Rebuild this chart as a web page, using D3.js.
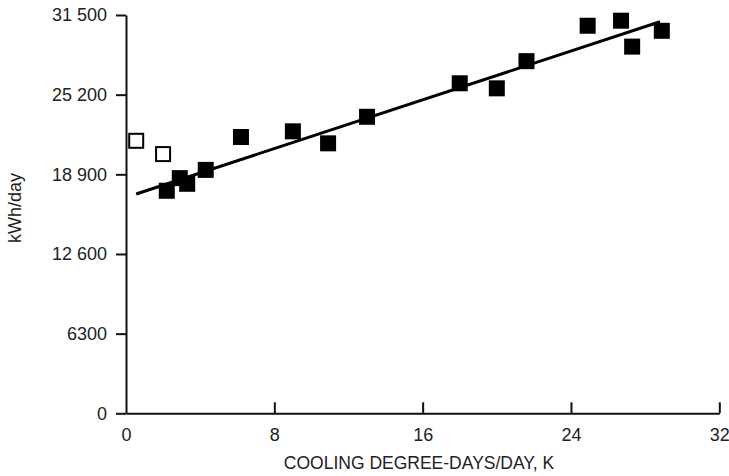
<!DOCTYPE html>
<html>
<head>
<meta charset="utf-8">
<script src="https://cdn.jsdelivr.net/npm/d3@7"></script>
<style>
  body { margin: 0; background: #fff; }
  text { font-family: "Liberation Sans", Arial, sans-serif; fill: #222; }
</style>
</head>
<body>
<div id="chart"></div>
<script>
// measured points (cooling degree-days/day vs kWh/day)
const filledX = [2.2, 2.9, 3.3, 4.3, 6.2, 9.0, 10.9, 13.0, 18.0, 20.0, 21.6, 24.9, 26.7, 27.3, 28.9];
const filledY = [17600, 18600, 18150, 19250, 21850, 22300, 21350, 23450, 26100, 25700, 27850, 30650, 31050, 29000, 30250];
// excluded points (open squares)
const openX = [0.55, 2.0];
const openY = [21550, 20500];
// regression line end points
const fitX = [0.55, 28.8];
const fitY = [17340, 30970];

const xTicks = [0, 8, 16, 24, 32];
const yTicks = [0, 6300, 12600, 18900, 25200, 31500];
const yTickLabels = ["0", "6300", "12 600", "18 900", "25 200", "31 500"];

const width = 729, height = 476;

const x = d3.scaleLinear().domain([0, 32]).range([126, 719.3]);
const y = d3.scaleLinear().domain([0, 31500]).range([413.3, 15]);

const svg = d3.select("#chart")
  .append("svg")
  .attr("width", width)
  .attr("height", height);

// y axis
const gy = svg.append("g")
  .attr("transform", "translate(" + x(0) + ",0)")
  .call(d3.axisLeft(y)
    .tickValues(yTicks)
    .tickFormat((d, i) => yTickLabels[i])
    .tickSize(10)
    .tickSizeOuter(0)
    .tickPadding(9));

// x axis, ticks pointing inward
const gx = svg.append("g")
  .attr("transform", "translate(0," + y(0) + ")")
  .call(d3.axisBottom(x)
    .tickValues(xTicks)
    .tickFormat(d3.format("d"))
    .tickSize(-11)
    .tickSizeOuter(0)
    .tickPadding(15));

gx.selectAll(".tick").filter(d => d === 0).select("line").remove();

[gx, gy].forEach((g) => {
  g.select(".domain").attr("stroke", "#111").attr("stroke-width", 2);
  g.selectAll(".tick line").attr("stroke", "#111").attr("stroke-width", 2);
  g.selectAll(".tick text")
    .style("font-size", "18px")
    .style("font-family", '"Liberation Sans", Arial, sans-serif')
    .attr("fill", "#222");
});

// regression line
const line = d3.line()
  .x((d, i) => x(fitX[i]))
  .y((d, i) => y(fitY[i]));

svg.append("path")
  .datum(fitX)
  .attr("d", line)
  .attr("fill", "none")
  .attr("stroke", "#000")
  .attr("stroke-width", 3);

// filled squares
const s = 16;
svg.selectAll("rect.filled")
  .data(filledX)
  .enter()
  .append("rect")
  .attr("class", "filled")
  .attr("x", (d) => x(d) - s / 2)
  .attr("y", (d, i) => y(filledY[i]) - s / 2)
  .attr("width", s)
  .attr("height", s)
  .attr("fill", "#000");

// open squares
const so = 14;
svg.selectAll("rect.open")
  .data(openX)
  .enter()
  .append("rect")
  .attr("class", "open")
  .attr("x", (d) => x(d) - so / 2)
  .attr("y", (d, i) => y(openY[i]) - so / 2)
  .attr("width", so)
  .attr("height", so)
  .attr("fill", "#fff")
  .attr("stroke", "#000")
  .attr("stroke-width", 2);

// axis titles
svg.append("text")
  .attr("x", 419)
  .attr("y", 469)
  .attr("text-anchor", "middle")
  .style("font-size", "17.5px")
  .text("COOLING DEGREE-DAYS/DAY, K");

svg.append("text")
  .attr("transform", "translate(21,208) rotate(-90)")
  .attr("text-anchor", "middle")
  .style("font-size", "18px")
  .text("kWh/day");
</script>
</body>
</html>
